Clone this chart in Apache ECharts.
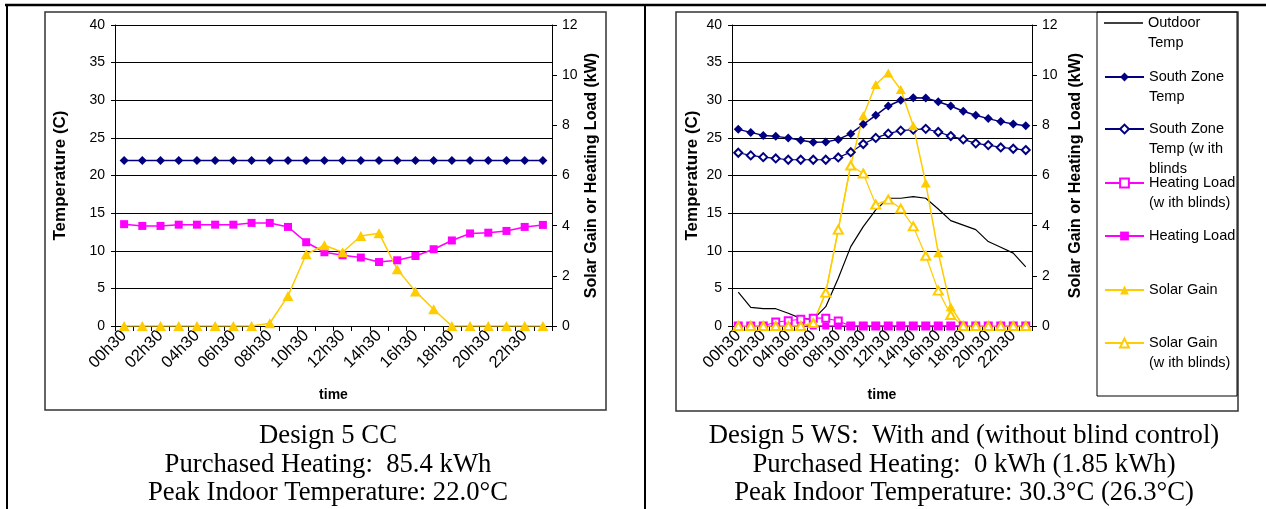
<!DOCTYPE html>
<html>
<head>
<meta charset="utf-8">
<script src="https://cdn.jsdelivr.net/npm/echarts@6/dist/echarts.min.js"></script>
<style>
html,body{margin:0;padding:0;background:#fff;}
#chart{width:1266px;height:509px;}
</style>
</head>
<body>
<div id="chart"></div>
<script>
// ---------- data ----------
const hours = ['00h30','01h30','02h30','03h30','04h30','05h30','06h30','07h30','08h30','09h30','10h30','11h30',
               '12h30','13h30','14h30','15h30','16h30','17h30','18h30','19h30','20h30','21h30','22h30','23h30'];
const tempTicks = [0, 40, 5];   // min, max, interval (C)
const loadTicks = [0, 12, 2];   // min, max, interval (kW)

// Design 5 CC
const ccSouthZoneTemp = [22.0,22.0,22.0,22.0,22.0,22.0,22.0,22.0,22.0,22.0,22.0,22.0,
                         22.0,22.0,22.0,22.0,22.0,22.0,22.0,22.0,22.0,22.0,22.0,22.0];
const ccHeatingLoad = [4.06,3.99,3.99,4.04,4.04,4.04,4.04,4.11,4.11,3.95,3.34,2.94,
                       2.82,2.73,2.55,2.62,2.79,3.06,3.41,3.69,3.72,3.79,3.95,4.03];
const ccSolarGain = [0,0,0,0,0,0,0,0,0.11,1.20,2.86,3.22,
                     2.94,3.59,3.70,2.26,1.38,0.67,0,0,0,0,0,0];

// Design 5 WS
const wsOutdoorTemp = [4.5,2.48,2.3,2.3,1.69,1.02,0.89,2.57,6.34,10.55,13.2,15.43,
                       16.98,16.98,17.2,16.98,15.55,14.0,13.4,12.8,11.22,10.46,9.68,7.85];
const wsSouthZoneTemp = [26.13,25.73,25.33,25.2,25.0,24.67,24.42,24.44,24.8,25.56,26.8,28.0,
                         29.24,30.0,30.32,30.3,29.8,29.24,28.53,28.0,27.56,27.16,26.84,26.62];
const wsSouthZoneTempBlinds = [23.02,22.67,22.44,22.27,22.09,22.09,22.09,22.09,22.4,23.1,24.18,25.0,
                               25.56,25.96,26.1,26.2,25.78,25.24,24.8,24.27,24.04,23.73,23.56,23.38];
const wsHeatingLoadBlinds = [0,0,0,0.16,0.21,0.27,0.31,0.31,0.2,0,0,0,
                             0,0,0,0,0,0,0,0,0,0,0,0];
const wsHeatingLoad = [0,0,0,0,0,0,0,0,0,0,0,0,
                       0,0,0,0,0,0,0,0,0,0,0,0];
const wsSolarGain = [0,0,0,0,0,0,0.12,1.33,3.84,6.42,8.38,9.63,
                     10.09,9.43,7.98,5.70,2.92,0.77,0,0,0,0,0,0];
const wsSolarGainBlinds = [0,0,0,0,0,0,0.12,1.33,3.84,6.4,6.08,4.84,
                           5.04,4.68,3.97,2.8,1.41,0.44,0,0,0,0,0,0];

const legendNames = ['Outdoor Temp','South Zone Temp','South Zone Temp (w ith blinds',
                     'Heating Load (w ith blinds)','Heating Load','Solar Gain','Solar Gain (w ith blinds)'];
const legendLines = [['Outdoor','Temp'],['South Zone','Temp'],['South Zone','Temp (w ith','blinds'],
                     ['Heating Load','(w ith blinds)'],['Heating Load'],['Solar Gain'],['Solar Gain','(w ith blinds)']];
const legendY = [23, 77, 129, 183, 236, 290, 343];

const captionsCC = ['Design 5 CC','Purchased Heating:  85.4 kWh','Peak Indoor Temperature: 22.0°C'];
const captionsWS = ['Design 5 WS:  With and (without blind control)','Purchased Heating:  0 kWh (1.85 kWh)',
                    'Peak Indoor Temperature: 30.3°C (26.3°C)'];

// ---------- styles ----------
const FONT = "'Liberation Sans', Arial, sans-serif";
const SERIF = "'Liberation Serif', 'Times New Roman', serif";
const NAVY = '#000080', MAG = '#FF00FF', YEL = '#FFCC00';

function xAxisFor(gi) {
  return {
    type: 'category', gridIndex: gi, data: hours, boundaryGap: true,
    name: 'time', nameLocation: 'middle', nameGap: 62,
    nameTextStyle: {fontFamily: FONT, fontSize: 14, fontWeight: 'bold', color: '#000'},
    axisLine: {show: true, lineStyle: {color: '#000', width: 1}},
    axisTick: {show: true, interval: 0, length: 5, lineStyle: {color: '#000'}},
    axisLabel: {interval: 1, rotate: 45, margin: 7, fontFamily: FONT, fontSize: 16.5, color: '#000'},
    splitLine: {show: false}
  };
}
function tempAxis(gi, gap) {
  return {
    type: 'value', gridIndex: gi, position: 'left',
    min: tempTicks[0], max: tempTicks[1], interval: tempTicks[2],
    name: 'Temperature (C)', nameLocation: 'middle', nameRotate: 90, nameGap: gap,
    nameTextStyle: {fontFamily: FONT, fontSize: 17, fontWeight: 'bold', color: '#000'},
    axisLine: {show: true, lineStyle: {color: '#000', width: 1}},
    axisTick: {show: true, length: 4, lineStyle: {color: '#000'}},
    axisLabel: {margin: 10, fontFamily: FONT, fontSize: 14, color: '#000'},
    splitLine: {show: true, lineStyle: {color: '#000', width: 1}}
  };
}
function loadAxis(gi, gap) {
  return {
    type: 'value', gridIndex: gi, position: 'right',
    min: loadTicks[0], max: loadTicks[1], interval: loadTicks[2],
    name: 'Solar Gain or Heating Load (kW)', nameLocation: 'middle', nameRotate: 90, nameGap: gap,
    nameTextStyle: {fontFamily: FONT, fontSize: 16, fontWeight: 'bold', color: '#000'},
    axisLine: {show: true, lineStyle: {color: '#000', width: 1}},
    axisTick: {show: true, length: 5, lineStyle: {color: '#000'}},
    axisLabel: {margin: 10, fontFamily: FONT, fontSize: 14, color: '#000'},
    splitLine: {show: false}
  };
}
function lineSeries(name, data, xi, yi, color, symbol, size, width, empty) {
  return {
    type: 'line', name: name, data: data, xAxisIndex: xi, yAxisIndex: yi,
    symbol: symbol, symbolSize: size, showSymbol: symbol !== 'none', showAllSymbol: true,
    lineStyle: {color: color, width: width},
    itemStyle: {color: color, borderWidth: empty ? 1.2 : 0},
    animation: false, silent: true
  };
}

const graphics = [
  {type:'line', shape:{x1:5,y1:5,x2:1266,y2:5}, style:{stroke:'#000', lineWidth:2.5}},
  {type:'line', shape:{x1:7,y1:4,x2:7,y2:509}, style:{stroke:'#000', lineWidth:2}},
  {type:'line', shape:{x1:645,y1:4,x2:645,y2:509}, style:{stroke:'#000', lineWidth:2}},
  {type:'rect', shape:{x:45,y:12,width:561,height:398}, style:{stroke:'#333', lineWidth:1.5, fill:'none'}},
  {type:'rect', shape:{x:676,y:12,width:562,height:399}, style:{stroke:'#333', lineWidth:1.5, fill:'none'}},
  {type:'rect', shape:{x:1097,y:12,width:140,height:384}, style:{stroke:'#000', lineWidth:1, fill:'none'}}
];
const capY = [436, 465, 493];
captionsCC.forEach((t, i) => graphics.push({type:'text', x:328, y:capY[i],
  style:{text:t, font:"26.7px " + SERIF, fill:'#000', align:'center', verticalAlign:'middle'}}));
captionsWS.forEach((t, i) => graphics.push({type:'text', x:964, y:capY[i],
  style:{text:t, font:"26.7px " + SERIF, fill:'#000', align:'center', verticalAlign:'middle'}}));

const LH = 20;
const legends = legendNames.map((n, i) => {
  const lines = legendLines[i];
  const k = lines.length;
  const H = (2 * k - 1) * LH;
  const item = (i === 0) ? {name: n, icon: 'rect'} : {name: n};
  return {
    data: [item], left: 1104, top: legendY[i] - H / 2, padding: 0,
    orient: 'vertical', itemWidth: 39, itemHeight: (i === 0) ? 1.3 : 11, selectedMode: false,
    formatter: () => '\n'.repeat(k - 1) + lines.join('\n'),
    textStyle: {fontFamily: FONT, fontSize: 14.5, color: '#000', lineHeight: LH}
  };
});

const option = {
  backgroundColor: '#fff',
  animation: false,
  grid: [
    {left: 115, top: 25, width: 437, height: 301},
    {left: 732, top: 25, width: 300, height: 301}
  ],
  xAxis: [xAxisFor(0), xAxisFor(1)],
  yAxis: [tempAxis(0, 46), loadAxis(0, 32), tempAxis(1, 31), loadAxis(1, 36)],
  legend: legends,
  graphic: graphics,
  series: [
    lineSeries('South Zone Temp CC', ccSouthZoneTemp, 0, 0, NAVY, 'diamond', [9, 9], 1.5, false),
    lineSeries('Heating Load CC', ccHeatingLoad, 0, 1, MAG, 'rect', 8, 1.5, false),
    lineSeries('Solar Gain CC', ccSolarGain, 0, 1, YEL, 'triangle', [11, 10], 1.5, false),

    lineSeries('Outdoor Temp', wsOutdoorTemp, 1, 2, '#000', 'none', 0, 1.2, false),
    lineSeries('South Zone Temp', wsSouthZoneTemp, 1, 2, NAVY, 'diamond', [9, 9], 1.5, false),
    lineSeries('South Zone Temp (w ith blinds', wsSouthZoneTempBlinds, 1, 2, NAVY, 'emptyDiamond', [8, 8], 1.2, true),
    lineSeries('Heating Load (w ith blinds)', wsHeatingLoadBlinds, 1, 3, MAG, 'emptyRect', 7, 1.2, true),
    lineSeries('Heating Load', wsHeatingLoad, 1, 3, MAG, 'rect', 7, 1.5, false),
    lineSeries('Solar Gain', wsSolarGain, 1, 3, YEL, 'triangle', [10, 9], 1.5, false),
    lineSeries('Solar Gain (w ith blinds)', wsSolarGainBlinds, 1, 3, YEL, 'emptyTriangle', [9, 8], 1.2, true)
  ]
};

const chart = echarts.init(document.getElementById('chart'), null, {renderer: 'canvas'});
chart.setOption(option);
</script>
</body>
</html>
